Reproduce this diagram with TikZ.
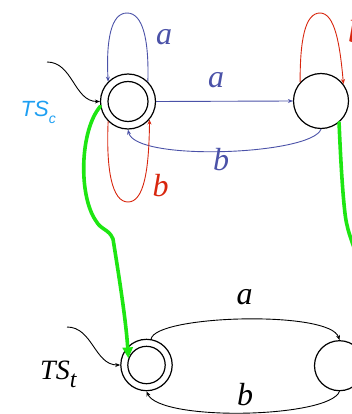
\documentclass[tikz,border=0pt]{standalone}
\usepackage{fontspec}
\setmainfont{Liberation Serif}
\setsansfont{Liberation Sans}
\usepackage{xcolor}
\usepackage{tikz}
\usetikzlibrary{arrows.meta}
\definecolor{INK}{HTML}{000000}
\definecolor{SLATE}{HTML}{4B52A8}
\definecolor{RUST}{HTML}{D8260E}
\definecolor{LIME}{HTML}{1EE612}
\definecolor{SKY}{HTML}{1E9FF2}

\begin{document}
\begin{tikzpicture}[
  x=1pt, y=-1pt,
  state/.style={circle, draw=INK, line width=1.2pt, minimum size=55pt, inner sep=0pt},
  ring/.style={circle, draw=INK, line width=1.2pt, minimum size=40pt, inner sep=0pt},
  move/.style={-{Stealth[length=5pt, width=4pt]}, line width=0.9pt},
  bmove/.style={move, draw=SLATE},
  rmove/.style={move, draw=RUST},
  init/.style={move, draw=INK},
  link/.style={draw=LIME, line width=3.6pt, line cap=round},
  lbl/.style={font=\fontsize{32}{32}\selectfont\itshape, inner sep=0pt}
]
\useasboundingbox (0,0) rectangle (352,414);

% upper system
\node[state] (c0) at (128,101.5) {};
\node[ring] (c0i) at (128,101.5) {};
\node[state] (c1) at (321,101) {};
\node[font=\sffamily\fontsize{22}{22}\selectfont\itshape, text=SKY, anchor=base west, inner sep=0pt] (tsc) at (20.5,116.7) {TS\raisebox{-7pt}{\fontsize{14}{14}\selectfont c}};

\coordinate (c0in) at (47,62);
\draw[init] (c0in) to[out=0, in=180] (c0.west);

\draw[bmove] (c0.east) -- (c1.west);
\node[lbl, text=SLATE] (la1) at (216,80) {a};
\draw[bmove] (c1.south) .. controls (312,155) and (135,162) .. (c0.south);
\node[lbl, text=SLATE] (lb1) at (221,160) {b};

% loops
\draw[bmove] (c0.45) .. controls (149,40) and (143,13) .. (127,13) .. controls (111,13) and (106,40) .. (c0.135);
\node[lbl, text=SLATE] (la0) at (164,37) {a};
\draw[rmove] (c0.225) .. controls (106,170) and (112,202) .. (128,202) .. controls (144,202) and (149,170) .. (c0.-40);
\node[lbl, text=RUST] (lb0) at (160.5,186) {b};
\draw[rmove] (c1.138) .. controls (300,40) and (305,13) .. (320,13) .. controls (335,13) and (340,45) .. (c1.37);
\node[lbl, text=RUST] (lb2) at (356,32) {b};

% lower system
\node[state, minimum size=51.4pt] (b0) at (146.5,365) {};
\node[ring, minimum size=37.4pt] (b0i) at (146.5,365) {};
\node[state, minimum size=50pt] (b1) at (339.5,365.7) {};
\node[font=\fontsize{28}{28}\selectfont\itshape, anchor=base west, inner sep=0pt] (tst) at (40,379.3) {TS\raisebox{-8.5pt}{\fontsize{24}{24}\selectfont t}};

\coordinate (b0in) at (67,327);
\draw[init] (b0in) to[out=0, in=180] (b0.west);

\draw[init] (b0.80) .. controls (155,315) and (330,310) .. (b1.north);
\node[lbl] (la3) at (244.5,297.5) {a};
\draw[init] (b1.south) .. controls (330,418) and (160,422) .. (b0.south);
\node[lbl] (lb3) at (245,395) {b};

% green links
\draw[link, -{Triangle[length=11pt, width=10pt]}] (c0.190) .. controls (80,130) and (78,195) .. (96,221) .. controls (101,230) and (109,229) .. (113,239) .. controls (118,270) and (126,320) .. (b0i.160);
\coordinate (c1out) at (362,270);
\draw[link] (c1.-50) .. controls (341,170) and (344,215) .. (347,225) .. controls (349,235) and (355,250) .. (c1out);

\end{tikzpicture}
\end{document}
